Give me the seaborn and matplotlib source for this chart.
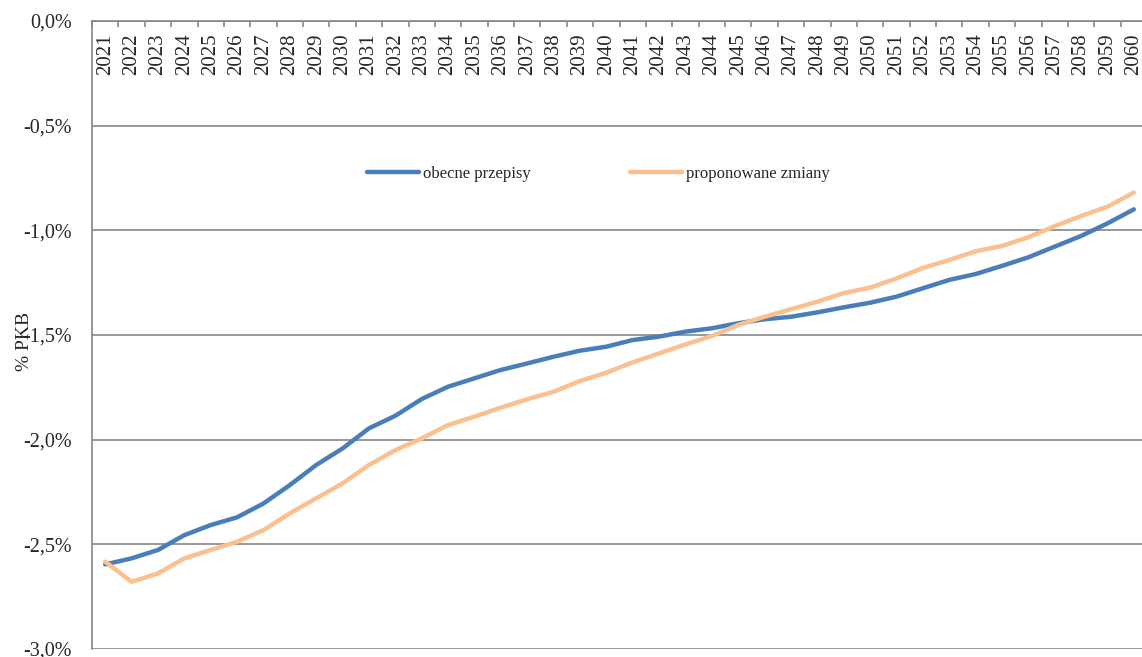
import matplotlib
matplotlib.use("Agg")
import matplotlib.pyplot as plt
from matplotlib.lines import Line2D
import seaborn as sns
import pandas as pd
import numpy as np

# data (% PKB)
years = list(range(2021, 2061))
obecne = [-2.596, -2.567, -2.527, -2.456, -2.408, -2.371, -2.305, -2.217, -2.121, -2.042,
          -1.946, -1.886, -1.806, -1.747, -1.707, -1.667, -1.636, -1.604, -1.575, -1.556,
          -1.524, -1.508, -1.484, -1.468, -1.444, -1.425, -1.413, -1.392, -1.368, -1.346,
          -1.317, -1.277, -1.237, -1.209, -1.170, -1.129, -1.078, -1.027, -0.967, -0.900]
proponowane = [-2.583, -2.679, -2.639, -2.567, -2.527, -2.488, -2.432, -2.352, -2.280, -2.209,
               -2.121, -2.050, -1.994, -1.930, -1.890, -1.847, -1.807, -1.771, -1.720, -1.680,
               -1.631, -1.588, -1.545, -1.505, -1.452, -1.413, -1.377, -1.341, -1.300, -1.274,
               -1.230, -1.180, -1.142, -1.100, -1.075, -1.033, -0.980, -0.932, -0.887, -0.820]
series_names = ['obecne przepisy', 'proponowane zmiany']
y_ticks = [-3.0, -2.5, -2.0, -1.5, -1.0, -0.5, 0.0]

colors = {'obecne przepisy': '#4A7EBB', 'proponowane zmiany': '#FAC090'}
grid_color = '#868686'

sns.set_style('white')
plt.rcParams['font.family'] = ['Liberation Serif', 'DejaVu Serif']

df = pd.DataFrame({
    'rok': years + years,
    'wartosc': obecne + proponowane,
    'seria': [series_names[0]] * len(years) + [series_names[1]] * len(years),
})

fig = plt.figure(figsize=(11.42, 6.57), dpi=100)
ax = fig.add_axes([0.0806, 0.0122, 0.9238, 0.9559])

sns.lineplot(data=df, x='rok', y='wartosc', hue='seria', palette=colors,
             linewidth=3.2, ax=ax, legend=False)

# y axis
ax.set_ylim(-3.0, 0.0)
ax.set_yticks(y_ticks)
ax.set_yticklabels([f'{v:.1f}%'.replace('.', ',') for v in y_ticks])
ax.yaxis.grid(True, color=grid_color, linewidth=1.2)
ax.set_axisbelow(True)
ax.tick_params(axis='y', which='major', direction='out', length=4.5, width=1.2,
               color=grid_color, labelsize=14.5, pad=10)

# x axis sits at the top, labels hang inside the plot
ax.set_xlim(years[0] - 0.5, years[-1] + 0.5)
ax.xaxis.set_ticks_position('top')
ax.set_xticks(years)
ax.set_xticks(np.arange(years[0] - 0.5, years[-1] + 1), minor=True)
ax.tick_params(axis='x', which='major', length=0, labelrotation=90, labelsize=15,
               pad=-9, top=True, bottom=False, labeltop=True, labelbottom=False)
ax.tick_params(axis='x', which='minor', direction='in', length=4.5, width=1.2,
               color=grid_color, top=True, bottom=False)
plt.setp(ax.get_xticklabels(), va='top')
ax.set_xlabel('')

for side in ['right', 'bottom']:
    ax.spines[side].set_visible(False)
for side in ['left', 'top']:
    ax.spines[side].set_color(grid_color)
    ax.spines[side].set_linewidth(1.2)

ax.set_ylabel('% PKB', fontsize=14)
ax.yaxis.set_label_coords(-0.056, 0.49)

handles = [Line2D([], [], color=colors[n], linewidth=3.2) for n in series_names]
ax.legend(handles, series_names, loc='center', bbox_to_anchor=(0.48, 0.756), ncol=2,
          frameon=False, fontsize=12, handlelength=3.1, handletextpad=0.25,
          columnspacing=6, borderpad=0)

fig.savefig('out.png', dpi=100)
